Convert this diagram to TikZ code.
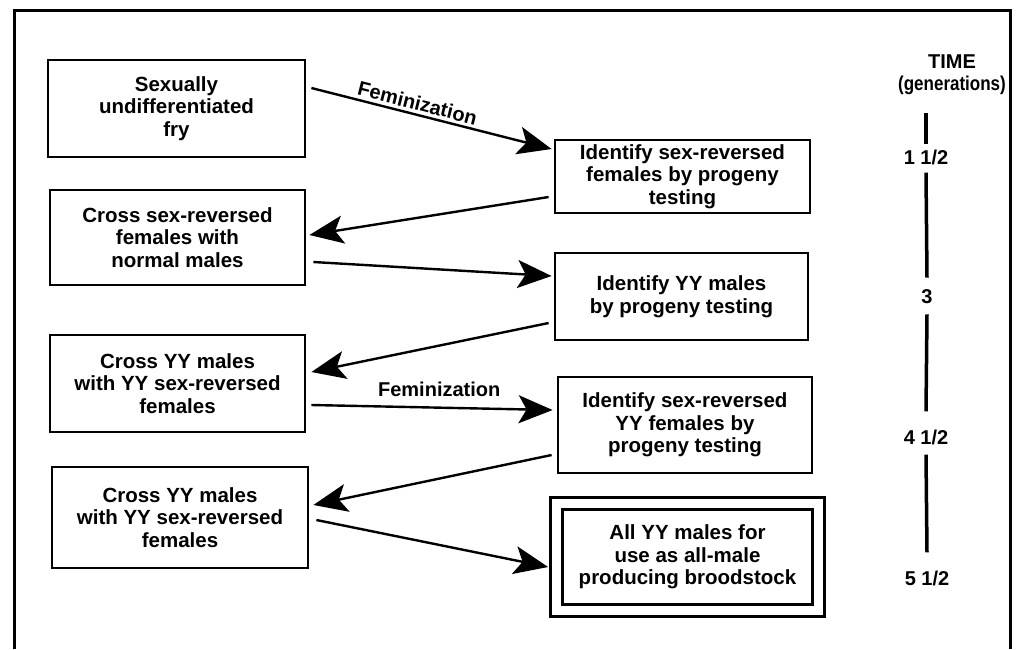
\documentclass[tikz,border=0pt]{standalone}
\usepackage{fontspec}
\setmainfont{Liberation Sans}
\usetikzlibrary{arrows.meta}
\begin{document}
\begin{tikzpicture}[x=1pt,y=-1pt,
  box/.style={draw, line width=2.8pt, align=center, inner sep=0pt,
    font=\bfseries\fontsize{20.5}{22.5}\selectfont},
  conn/.style={line width=2.4pt, -{Stealth[length=34pt,width=28pt,inset=8pt]}},
  lbl/.style={font=\bfseries\fontsize{20}{22}\selectfont, inner sep=2pt},
  tlbl/.style={font=\bfseries\fontsize{20}{22}\selectfont, inner sep=0pt},
  tline/.style={line width=3.5pt}]
\useasboundingbox (0,0) rectangle (1018,649);
% frame
\draw[line width=3pt] (14,649) -- (14,10) -- (1010,10) -- (1010,649);
% left boxes
\node[box, minimum width=257pt, minimum height=97pt] (b1) at (176.5,108.5) {Sexually\\undifferentiated\\fry};
\node[box, minimum width=255pt, minimum height=95pt] (b2) at (177.5,237.5) {Cross sex-reversed\\females with\\normal males};
\node[box, minimum width=255pt, minimum height=97pt] (b3) at (177.5,383.5) {Cross YY males\\with YY sex-reversed\\females};
\node[box, minimum width=256pt, minimum height=101pt] (b4) at (180,517.5) {Cross YY males\\with YY sex-reversed\\females};
% right boxes
\node[box, minimum width=255pt, minimum height=73pt] (r1) at (682.5,176.5) {Identify sex-reversed\\females by progeny\\testing};
\node[box, minimum width=253pt, minimum height=87pt] (r2) at (681.5,296.5) {Identify YY males\\by progeny testing};
\node[box, minimum width=254pt, minimum height=96pt] (r3) at (685,425) {Identify sex-reversed\\YY females by\\progeny testing};
\node[box, double, double distance=9pt, minimum width=262pt, minimum height=107pt] (r4) at (687.5,557) {All YY males for\\use as all-male\\producing broodstock};
% connectors
\draw[conn] ([xshift=5pt,yshift=20.5pt]b1.east) -- node[lbl, sloped, above, pos=0.43, yshift=1pt] {Feminization} ([xshift=-2pt,yshift=27.5pt]r1.west);
\draw[conn] ([xshift=-5pt,yshift=-20.5pt]r1.west) -- ([xshift=3pt,yshift=2.5pt]b2.east);
\draw[conn] ([xshift=7pt,yshift=-24.5pt]b2.east) -- ([xshift=-2pt,yshift=20.5pt]r2.west);
\draw[conn] ([xshift=-5pt,yshift=-26.5pt]r2.west) -- ([xshift=5pt,yshift=11.5pt]b3.east);
\draw[conn] ([xshift=5pt,yshift=-21.5pt]b3.east) -- node[lbl, above, pos=0.53, yshift=8pt] {Feminization} ([xshift=-4pt,yshift=15pt]r3.west);
\draw[conn] ([xshift=-5pt,yshift=-30pt]r3.west) -- ([xshift=4pt,yshift=12.5pt]b4.east);
\draw[conn] ([xshift=7pt,yshift=-2.5pt]b4.east) -- ([xshift=-7pt,yshift=-10pt]r4.west);
% time column
\node[tlbl] (time) at (952,62) {TIME};
\node[tlbl] (gen) at (952,85) {\scalebox{0.85}[1]{(generations)}};
\node[tlbl] (g1) at (926,157) {1 1/2};
\node[tlbl] (g2) at (927,297) {3};
\node[tlbl] (g3) at (926,437) {4 1/2};
\node[tlbl] (g4) at (927,578) {5 1/2};
\coordinate (t0) at (926,113);
\draw[tline] (t0) -- ([yshift=5pt]g1.north);
\draw[tline] ([yshift=-8pt]g1.south) -- ([yshift=12pt]g2.north);
\draw[tline] ([yshift=-10pt]g2.south) -- ([yshift=18pt]g3.north);
\draw[tline] ([yshift=-10pt]g3.south) -- ([yshift=18pt]g4.north);
\end{tikzpicture}
\end{document}
